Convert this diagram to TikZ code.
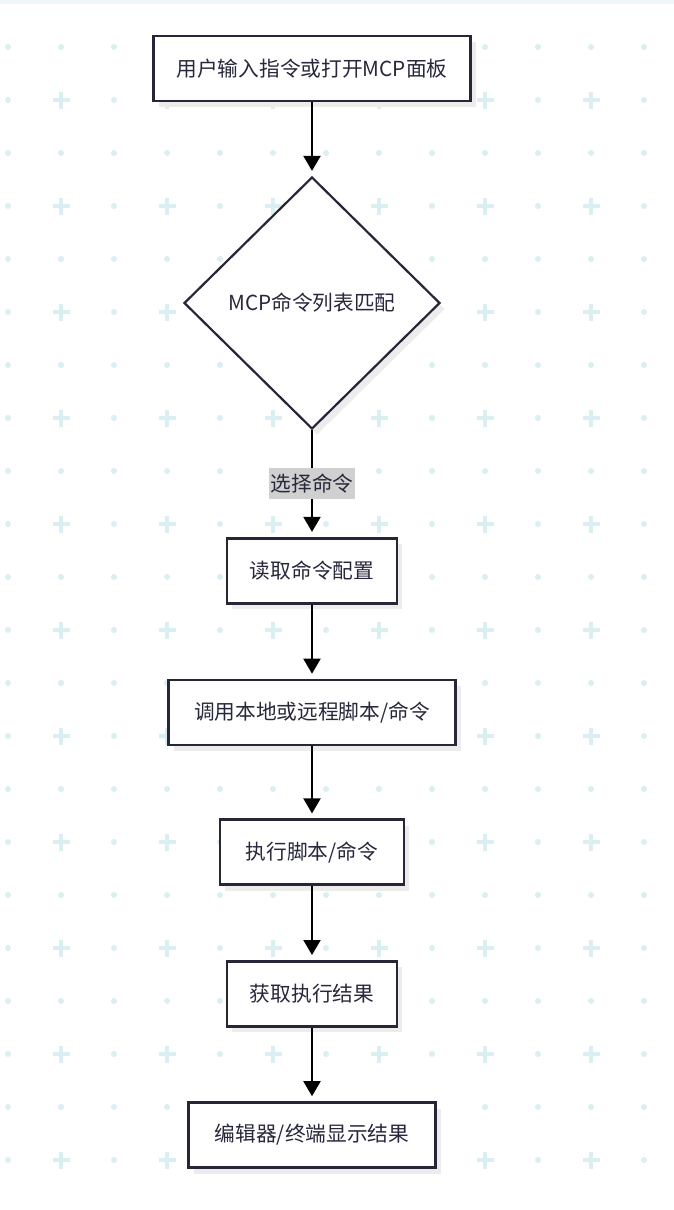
\documentclass[tikz,border=0pt]{standalone}
\usepackage{fontspec}
\setmainfont{Noto Sans CJK SC}
\usepackage{xcolor}
\usetikzlibrary{shapes.geometric}
\usetikzlibrary{shadows}
\usetikzlibrary{arrows.meta}
\definecolor{gridteal}{RGB}{218,239,241}
\definecolor{topband}{RGB}{238,246,248}
\definecolor{boxline}{RGB}{38,38,56}
\definecolor{boxtext}{RGB}{40,40,60}
\definecolor{boxshade}{RGB}{236,236,236}
\definecolor{labelgray}{RGB}{208,208,208}
\tikzset{
  flowbox/.style={draw=boxline, line width=2.6pt, fill=white, text=boxtext,
    minimum height=65pt, inner sep=0pt,
    drop shadow={shadow xshift=5pt, shadow yshift=-6pt, fill=boxshade, opacity=1}},
  choice/.style={diamond, draw=boxline, line width=2.2pt, fill=white, text=boxtext,
    minimum width=256pt, minimum height=252pt, inner sep=0pt,
    drop shadow={shadow xshift=5pt, shadow yshift=-6pt, fill=boxshade, opacity=1}},
  edgelabel/.style={fill=labelgray, text=boxtext, inner xsep=1.5pt, inner ysep=0pt,
    minimum height=31pt},
  flowarrow/.style={line width=2pt, -{Triangle[width=17pt,length=15pt]}, shorten >=5pt}
}

\begin{document}
\begin{tikzpicture}[x=1pt,y=1pt]
\fontsize{20.7pt}{25pt}\selectfont
\useasboundingbox (0,0) rectangle (674,-1210);
% background
\fill[white] (0,0) rectangle (674,-1210);
\fill[topband] (0,0) rectangle (674,-3.5);
\foreach \y in {47,153,...,1107}
  \foreach \x in {8,61,...,644}
    \fill[gridteal] (\x,-\y) circle (3);
\foreach \y in {100,206,...,1160} {
  \foreach \x in {8,114,...,644}
    \fill[gridteal] (\x,-\y) circle (3);
  \foreach \x in {61,167,...,591}
    \draw[gridteal, line width=4.5pt] (\x-8.5,-\y) -- (\x+8.5,-\y)
      (\x,-\y-8.5) -- (\x,-\y+8.5);
}
% steps
\node[flowbox, minimum width=317pt] (input) at (312,-68.5) {用户输入指令或打开MCP面板};
\node[choice] (match) at (312,-303) {MCP命令列表匹配};
\node[flowbox, minimum width=170pt] (readcfg) at (312,-570.7) {读取命令配置};
\node[flowbox, minimum width=287pt] (invoke) at (312,-712.5) {调用本地或远程脚本/命令};
\node[flowbox, minimum width=184pt] (exec) at (312,-852.2) {执行脚本/命令};
\node[flowbox, minimum width=170pt] (result) at (312,-993.8) {获取执行结果};
\node[flowbox, minimum width=247pt] (show) at (312,-1135) {编辑器/终端显示结果};
% arrows
\draw[flowarrow] (input.south) -- (match.north);
\draw[flowarrow] (match.south) -- (readcfg.north)
  node[midway, edgelabel] (pick) {选择命令};
\draw[flowarrow] (readcfg.south) -- (invoke.north);
\draw[flowarrow] (invoke.south) -- (exec.north);
\draw[flowarrow] (exec.south) -- (result.north);
\draw[flowarrow] (result.south) -- (show.north);
\end{tikzpicture}
\end{document}
